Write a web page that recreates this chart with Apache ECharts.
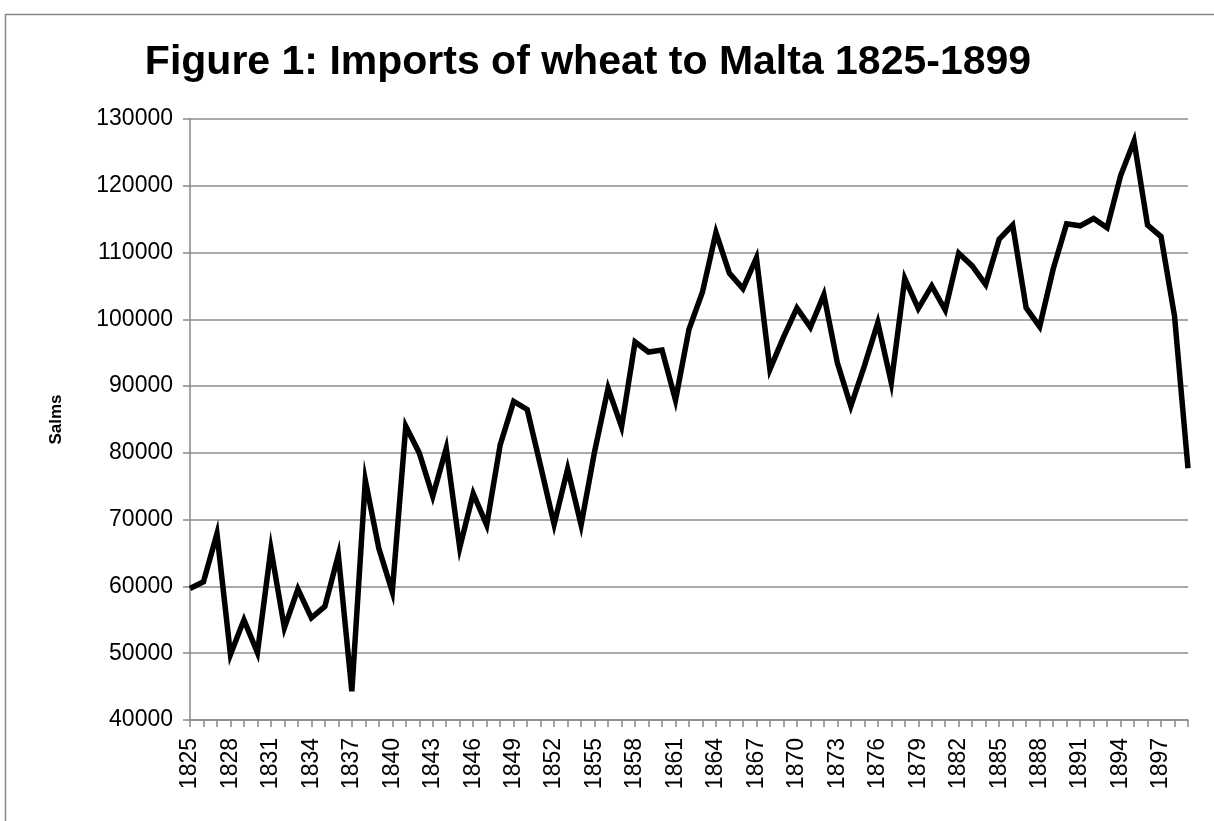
<!DOCTYPE html>
<html>
<head>
<meta charset="utf-8">
<script src="https://cdn.jsdelivr.net/npm/echarts@6/dist/echarts.min.js"></script>
<style>
html,body{margin:0;padding:0;background:#fff;}
#chart{width:1214px;height:821px;}
</style>
</head>
<body>
<div id="chart"></div>
<script>
const years = [];
for (let y = 1825; y <= 1899; y++) years.push(String(y));

const salms = [
  59700, 60700, 67900, 49800, 55000, 50100, 65600, 53800, 59600, 55300,
  57000, 64700, 44300, 75900, 65700, 59200, 84000, 80000, 73500, 80700,
  65800, 73900, 69200, 81200, 87700, 86500, 78000, 69300, 77600, 69200,
  80200, 89700, 83900, 96600, 95100, 95400, 87900, 98500, 104100, 113000,
  106900, 104600, 109200, 92500, 97300, 101700, 98800, 103700, 93500, 87000,
  93000, 99500, 90500, 106100, 101600, 105000, 101400, 109900, 108000, 105200,
  112000, 114100, 101700, 98900, 107500, 114300, 114000, 115100, 113700, 121500,
  126700, 114100, 112400, 100500, 77700
];

const titleText = 'Figure 1: Imports of wheat to Malta 1825-1899';
const yAxisName = 'Salms';

const chart = echarts.init(document.getElementById('chart'));
chart.setOption({
  animation: false,
  backgroundColor: '#fff',
  graphic: [
    {
      type: 'rect',
      left: 3, top: 12,
      shape: { x: 0, y: 0, width: 1230, height: 830 },
      style: { fill: 'none', stroke: '#888', lineWidth: 1.5 },
      silent: true
    },
    {
      type: 'text',
      x: 588, y: 63,
      style: {
        text: titleText,
        font: 'bold 41px "Liberation Sans", Arial, sans-serif',
        fill: '#000',
        textAlign: 'center',
        textVerticalAlign: 'middle'
      }
    }
  ],
  grid: { left: 190, right: 26, top: 119, bottom: 101, containLabel: false },
  xAxis: {
    type: 'category',
    data: years,
    boundaryGap: false,
    axisLine: { lineStyle: { color: '#888', width: 1.5 } },
    axisTick: { interval: 0, length: 7, lineStyle: { color: '#888', width: 1.5 } },
    axisLabel: {
      interval: 2,
      rotate: 90,
      margin: 18,
      color: '#000',
      fontSize: 23,
      fontFamily: 'Liberation Sans'
    },
    splitLine: { show: false }
  },
  yAxis: {
    type: 'value',
    min: 40000,
    max: 130000,
    interval: 10000,
    name: yAxisName,
    nameLocation: 'middle',
    nameGap: 125,
    nameRotate: 90,
    nameTextStyle: { fontWeight: 'bold', fontSize: 17, color: '#000', fontFamily: 'Liberation Sans' },
    axisLine: { show: true, lineStyle: { color: '#888', width: 1.5 } },
    axisTick: { show: true, length: 7, lineStyle: { color: '#888', width: 1.5 } },
    axisLabel: {
      margin: 17,
      color: '#000',
      fontSize: 23,
      fontFamily: 'Liberation Sans',
      formatter: function (v) { return String(v); }
    },
    splitLine: { lineStyle: { color: '#8c8c8c', width: 1.5 } }
  },
  series: [{
    type: 'line',
    data: salms,
    symbol: 'none',
    lineStyle: { color: '#000', width: 5.5, join: 'miter' },
    itemStyle: { color: '#000' }
  }]
});
</script>
</body>
</html>
